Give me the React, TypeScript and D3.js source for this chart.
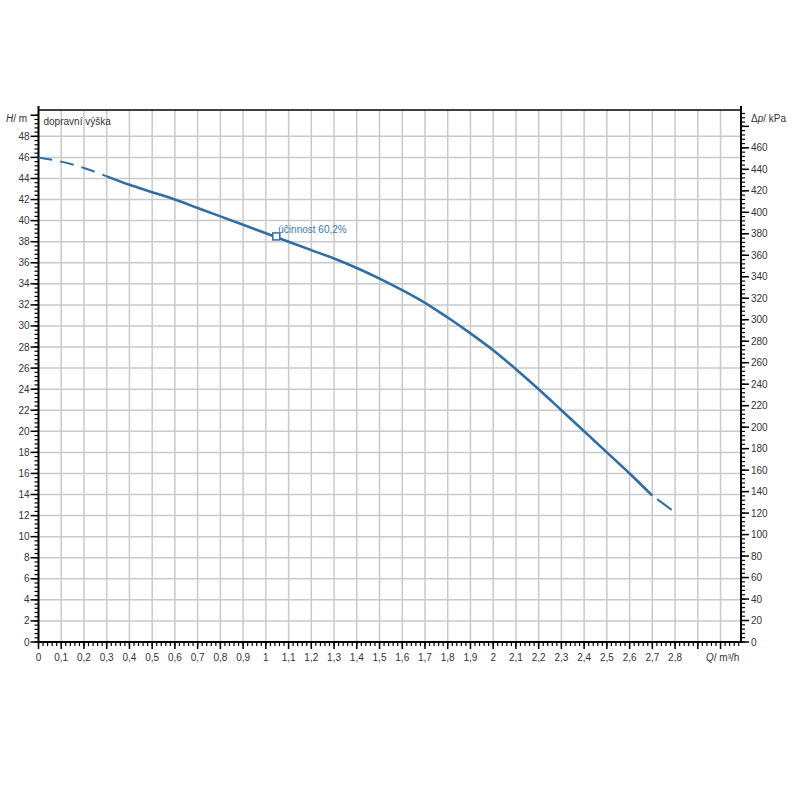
import React, { useEffect, useRef } from "react";
import * as d3 from "d3";

// pump curve: flow Q (m³/h) -> head H (m)
const flowQ = [0, 0.1, 0.2, 0.3, 0.4, 0.5, 0.6, 0.7, 0.8, 0.9, 1.0, 1.1, 1.2, 1.3, 1.4, 1.5,
    1.6, 1.7, 1.8, 1.9, 2.0, 2.1, 2.2, 2.3, 2.4, 2.5, 2.6, 2.7, 2.8];
const headH = [46.0, 45.6, 45.0, 44.2, 43.4, 42.7, 42.0, 41.2, 40.4, 39.6, 38.8, 38.0, 37.2, 36.4, 35.5, 34.5,
    33.4, 32.2, 30.8, 29.3, 27.7, 25.9, 24.0, 22.0, 20.0, 18.0, 16.0, 13.9, 12.3];

// range drawn as a solid line, the rest is dashed
const solidFrom = 0.3;
const solidTo = 2.7;

// duty point
const dutyQ = 1.046;
const dutyH = 38.5;
const dutyLabel = "účinnost 60,2%";

const xTickValues = d3.range(0, 31).map((i) => i / 10);
const xLabelValues = d3.range(0, 29).map((i) => i / 10);
const yTickValues = d3.range(0, 26).map((i) => i * 2);
const yLabelValues = d3.range(0, 25).map((i) => i * 2);
const kpaTickValues = d3.range(0, 25).map((i) => i * 20);
const kpaLabelValues = d3.range(0, 24).map((i) => i * 20);

type Pt = { q: number; h: number };

const fmt = (v: number) => String(Math.round(v * 10) / 10).replace(".", ",");

export default function App() {
    const svgRef = useRef<SVGSVGElement | null>(null);
    const width = 800;
    const height = 800;

    useEffect(() => {
        const svg = d3.select(svgRef.current);
        svg.selectAll("*").remove();

        const left = 38.5, right = 741, top = 110, bottom = 642;
        const hMax = 50.5;

        const x = d3.scaleLinear().domain([0, 3.09]).range([left, right]);
        const y = d3.scaleLinear().domain([0, hMax]).range([bottom, top]);
        const yk = d3.scaleLinear().domain([0, hMax * 9.80665]).range([bottom, top]);

        const font = "'Liberation Sans', Arial, sans-serif";
        const grey = "#c9c9c9";
        const blue = "#2f6ea5";

        svg.append("rect").attr("width", width).attr("height", height).attr("fill", "#fff");

        // grid
        const grid = svg.append("g").attr("stroke", grey).attr("stroke-width", 1.5);
        grid.selectAll("line.v")
            .data(xTickValues.slice(1))
            .join("line")
            .attr("x1", (d) => x(d)).attr("x2", (d) => x(d))
            .attr("y1", top).attr("y2", bottom);
        grid.selectAll("line.h")
            .data(yTickValues.slice(1, 25))
            .join("line")
            .attr("x1", left).attr("x2", right)
            .attr("y1", (d) => y(d)).attr("y2", (d) => y(d));

        // frame
        svg.append("line").attr("x1", left).attr("x2", right).attr("y1", top).attr("y2", top)
            .attr("stroke", "#000").attr("stroke-width", 1.5);

        // left axis
        const la = svg.append("g").attr("stroke", "#000");
        la.append("line").attr("x1", left).attr("x2", left).attr("y1", top - 4).attr("y2", bottom + 1)
            .attr("stroke-width", 2);
        la.selectAll("line.minor")
            .data(d3.range(0, 126).map((i) => i * 0.4).filter((v) => v <= hMax))
            .join("line")
            .attr("x1", left - 4).attr("x2", left)
            .attr("y1", (d) => y(d)).attr("y2", (d) => y(d))
            .attr("stroke-width", 1.2);
        la.selectAll("line.major")
            .data(yTickValues)
            .join("line")
            .attr("x1", left - 8).attr("x2", left)
            .attr("y1", (d) => y(d)).attr("y2", (d) => y(d))
            .attr("stroke-width", 1.5);
        svg.append("g").selectAll("text")
            .data(yLabelValues)
            .join("text")
            .attr("x", left - 9).attr("y", (d) => y(d) + 3.5)
            .attr("text-anchor", "end")
            .attr("font-family", font).attr("font-size", 10).attr("fill", "#333")
            .text((d) => fmt(d));

        // right axis
        const ra = svg.append("g").attr("stroke", "#000");
        ra.append("line").attr("x1", right).attr("x2", right).attr("y1", top - 4).attr("y2", bottom + 1)
            .attr("stroke-width", 2);
        ra.selectAll("line.minor")
            .data(d3.range(0, 125).map((i) => i * 4).filter((v) => v <= hMax * 9.80665))
            .join("line")
            .attr("x1", right).attr("x2", right + 4)
            .attr("y1", (d) => yk(d)).attr("y2", (d) => yk(d))
            .attr("stroke-width", 1.2);
        ra.selectAll("line.major")
            .data(kpaTickValues)
            .join("line")
            .attr("x1", right).attr("x2", right + 8)
            .attr("y1", (d) => yk(d)).attr("y2", (d) => yk(d))
            .attr("stroke-width", 1.5);
        svg.append("g").selectAll("text")
            .data(kpaLabelValues)
            .join("text")
            .attr("x", right + 10).attr("y", (d) => yk(d) + 3.5)
            .attr("font-family", font).attr("font-size", 10).attr("fill", "#333")
            .text((d) => String(d));

        // bottom axis
        const ba = svg.append("g").attr("stroke", "#000");
        ba.append("line").attr("x1", left - 1).attr("x2", right + 1).attr("y1", bottom).attr("y2", bottom)
            .attr("stroke-width", 2);
        ba.selectAll("line.minor")
            .data(d3.range(0, 155).map((i) => i * 0.02).filter((v) => v <= 3.09))
            .join("line")
            .attr("x1", (d) => x(d)).attr("x2", (d) => x(d))
            .attr("y1", bottom).attr("y2", bottom + 4)
            .attr("stroke-width", 1.2);
        ba.selectAll("line.major")
            .data(xTickValues)
            .join("line")
            .attr("x1", (d) => x(d)).attr("x2", (d) => x(d))
            .attr("y1", bottom).attr("y2", bottom + 7)
            .attr("stroke-width", 1.5);
        svg.append("g").selectAll("text")
            .data(xLabelValues)
            .join("text")
            .attr("x", (d) => x(d)).attr("y", bottom + 19)
            .attr("text-anchor", "middle")
            .attr("font-family", font).attr("font-size", 10).attr("fill", "#333")
            .text((d) => fmt(d));

        // axis titles
        const hTitle = svg.append("text").attr("x", 6).attr("y", 122)
            .attr("font-family", font).attr("font-size", 10).attr("fill", "#333");
        hTitle.append("tspan").attr("font-style", "italic").text("H");
        hTitle.append("tspan").text("/ m");

        const pTitle = svg.append("text").attr("x", right + 10).attr("y", 122)
            .attr("font-family", font).attr("font-size", 10).attr("fill", "#333");
        pTitle.append("tspan").text("Δ");
        pTitle.append("tspan").attr("font-style", "italic").text("p");
        pTitle.append("tspan").text("/ kPa");

        const qTitle = svg.append("text").attr("x", 706).attr("y", bottom + 19)
            .attr("font-family", font).attr("font-size", 10).attr("fill", "#333");
        qTitle.append("tspan").attr("font-style", "italic").text("Q");
        qTitle.append("tspan").text("/ m³/h");

        svg.append("text").attr("x", left + 5).attr("y", 125)
            .attr("font-family", font).attr("font-size", 10).attr("fill", "#333")
            .text("dopravní výška");

        // curve
        const pts: Pt[] = flowQ.map((q, i) => ({ q, h: headH[i] }));
        const line = d3.line<Pt>()
            .x((d) => x(d.q))
            .y((d) => y(d.h))
            .curve(d3.curveCatmullRom);

        const startPart = pts.filter((d) => d.q <= solidFrom + 1e-9);
        const midPart = pts.filter((d) => d.q >= solidFrom - 1e-9 && d.q <= solidTo + 1e-9);
        const endPart = pts.filter((d) => d.q >= solidTo - 1e-9);

        svg.append("path").datum(startPart)
            .attr("fill", "none").attr("stroke", blue).attr("stroke-width", 2)
            .attr("stroke-dasharray", "14,8")
            .attr("d", line);
        svg.append("path").datum(midPart)
            .attr("fill", "none").attr("stroke", blue).attr("stroke-width", 2.6)
            .attr("d", line);
        svg.append("path").datum(endPart)
            .attr("fill", "none").attr("stroke", blue).attr("stroke-width", 2)
            .attr("stroke-dasharray", "0,6,18,40")
            .attr("d", line);

        // duty point
        svg.append("rect")
            .attr("x", x(dutyQ) - 3.5).attr("y", y(dutyH) - 3.5)
            .attr("width", 7).attr("height", 7)
            .attr("fill", "#fff").attr("stroke", blue).attr("stroke-width", 1.5);
        svg.append("text")
            .attr("x", x(dutyQ) + 2).attr("y", y(dutyH) - 3)
            .attr("font-family", font).attr("font-size", 10).attr("fill", "#3a78b5")
            .text(dutyLabel);
    }, []);

    return (
        <svg
            ref={svgRef}
            width={width}
            height={height}
            style={{ position: "absolute", left: 0, top: 0 }}
        />
    );
}
